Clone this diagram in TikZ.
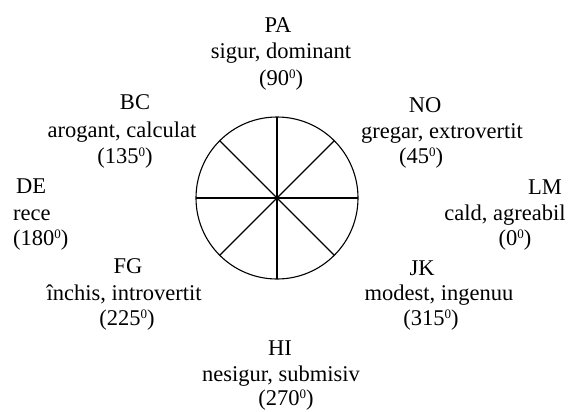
\documentclass[tikz,border=0pt]{standalone}
\usepackage{fontspec}
\setmainfont{Liberation Serif}
\newcommand{\supzero}{\raisebox{6.5pt}{\fontsize{13}{13}\selectfont 0}}
\begin{document}
\begin{tikzpicture}[x=1pt,y=-1pt,
  lbl/.style={anchor=base,inner sep=0pt,font=\fontsize{22.5}{27}\selectfont},
  lblw/.style={lbl,anchor=base west},
  wheelline/.style={line width=1.1pt}]
\useasboundingbox (0,0) rectangle (573,412);
\node[wheelline,draw,circle,minimum size=162pt,inner sep=0pt,outer sep=0pt] (wheel) at (277,198) {};
\draw[wheelline] (wheel.north) -- (wheel.south);
\draw[wheelline] (wheel.east) -- (wheel.west);
\draw[wheelline] (wheel.north east) -- (wheel.south west);
\draw[wheelline] (wheel.north west) -- (wheel.south east);
% PA
\node[lbl] (pa1) at (278,33) {PA};
\node[lbl] (pa2) at (281,59) {sigur, dominant};
\node[lbl] (pa3) at (281,85) {(90\supzero)};
% NO
\node[lbl] (no1) at (425,112) {NO};
\node[lbl] (no2) at (442,138) {gregar, extrovertit};
\node[lbl] (no3) at (421,163) {(45\supzero)};
% BC
\node[lbl] (bc1) at (135,110) {BC};
\node[lbl] (bc2) at (122,137) {arogant, calculat};
\node[lbl] (bc3) at (125,163) {(135\supzero)};
% DE
\node[lblw] (de1) at (16,193) {DE};
\node[lblw] (de2) at (13,220) {rece};
\node[lblw] (de3) at (13,245) {(180\supzero)};
% LM
\node[lbl] (lm1) at (545,194) {LM};
\node[lbl] (lm2) at (505,220) {cald, agreabil};
\node[lbl] (lm3) at (515,245) {(0\supzero)};
% FG
\node[lbl] (fg1) at (128,273) {FG};
\node[lbl] (fg2) at (124,300) {închis, introvertit};
\node[lbl] (fg3) at (127,325) {(225\supzero)};
% JK
\node[lbl] (jk1) at (422,275) {JK};
\node[lbl] (jk2) at (439,300) {modest, ingenuu};
\node[lbl] (jk3) at (431,325) {(315\supzero)};
% HI
\node[lbl] (hi1) at (280,355) {HI};
\node[lbl] (hi2) at (281,381) {nesigur, submisiv};
\node[lbl] (hi3) at (286,405) {(270\supzero)};
\end{tikzpicture}
\end{document}
